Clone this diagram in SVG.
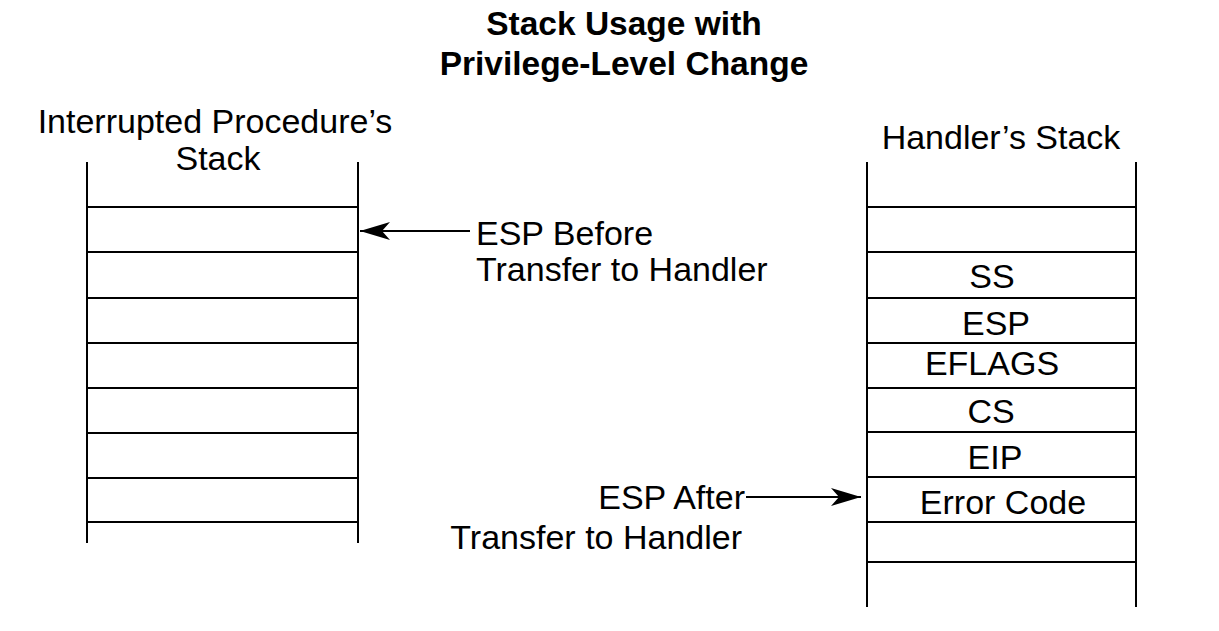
<svg xmlns="http://www.w3.org/2000/svg" width="1219" height="631" viewBox="0 0 1219 631">
<style>
.t{font-family:"Liberation Sans",Arial,sans-serif;font-size:34px;fill:#000}
.b{font-family:"Liberation Sans",Arial,sans-serif;font-size:33.5px;font-weight:bold;fill:#000}
.m{text-anchor:middle}
.e{text-anchor:end}
.ln{stroke:#000;stroke-width:2;fill:none}
</style>
<defs>
<marker id="ah" viewBox="0 0 30 18" refX="30" refY="9" markerWidth="30" markerHeight="18" markerUnits="userSpaceOnUse" orient="auto">
<path d="M0,0 L30,9 L0,18 L8,9 Z" fill="#000"/>
</marker>
</defs>
<rect width="1219" height="631" fill="#fff"/>
<g id="title">
<text class="b m" x="624" y="35">Stack Usage with</text>
<text class="b m" x="624" y="75">Privilege-Level Change</text>
</g>
<g id="left-stack">
<text class="t m" x="215" y="133">Interrupted Procedure’s</text>
<text class="t m" x="218" y="170">Stack</text>
<path class="ln" d="M87,162 V543 M358,162 V543 M87,207 H358 M87,252 H358 M87,298 H358 M87,343 H358 M87,388 H358 M87,433 H358 M87,478 H358 M87,522 H358"/>
</g>
<g id="right-stack">
<text class="t m" x="1001" y="149">Handler’s Stack</text>
<path class="ln" d="M867,162 V607 M1136,162 V607 M867,207 H1136 M867,252 H1136 M867,298 H1136 M867,343 H1136 M867,388 H1136 M867,432 H1136 M867,477 H1136 M867,522 H1136 M867,562 H1136"/>
<text class="t m" x="992" y="288">SS</text>
<text class="t m" x="996" y="335">ESP</text>
<text class="t m" x="992" y="375">EFLAGS</text>
<text class="t m" x="991" y="423">CS</text>
<text class="t m" x="995" y="469">EIP</text>
<text class="t m" x="1003" y="514">Error Code</text>
</g>
<g id="label-before">
<text class="t" x="476" y="245">ESP Before</text>
<text class="t" x="476" y="281">Transfer to Handler</text>
</g>
<g id="label-after">
<text class="t e" x="745" y="509">ESP After</text>
<text class="t e" x="742" y="549">Transfer to Handler</text>
</g>
<g id="connectors">
<line class="ln" x1="470" y1="231" x2="360" y2="231" marker-end="url(#ah)"/>
<line class="ln" x1="746" y1="497" x2="861" y2="497" marker-end="url(#ah)"/>
</g>
</svg>
